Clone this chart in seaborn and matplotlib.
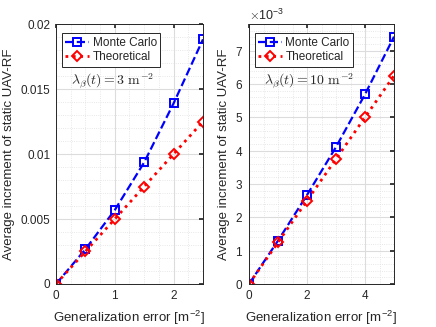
import matplotlib
matplotlib.use("Agg")
import matplotlib.pyplot as plt
import matplotlib.ticker as mticker
import seaborn as sns

# left panel: lambda = 3 m^-2
err_a = [0, 0.5, 1, 1.5, 2, 2.5]
mc_a = [0, 0.00267, 0.00569, 0.00936, 0.0139, 0.01882]
theo_a = [0, 0.0025, 0.005, 0.0075, 0.01, 0.0125]

# right panel: lambda = 10 m^-2
err_b = [0, 1, 2, 3, 4, 5]
mc_b = [0, 0.00130, 0.00267, 0.00411, 0.00569, 0.00742]
theo_b = [0, 0.00125, 0.0025, 0.00375, 0.005, 0.00625]

labels = ["Monte Carlo", "Theoretical"]

sns.set_theme(style="white")
plt.rcParams["font.family"] = ["Liberation Sans", "DejaVu Sans"]
plt.rcParams["mathtext.fontset"] = "cm"

fig = plt.figure(figsize=(4.36, 3.27), dpi=100)
ax1 = fig.add_axes([0.1284, 0.1315, 0.3372, 0.7951])
ax2 = fig.add_axes([0.5711, 0.1315, 0.3326, 0.7951])

EDGE = "#262626"


def draw(ax, x, mc, theo, lam, xmax, ymax, xstep, ystep):
    sns.lineplot(x=x, y=mc, ax=ax, color="blue", linestyle="--", linewidth=1.6,
                 marker="s", markersize=5.5, markerfacecolor="none",
                 markeredgecolor="blue", markeredgewidth=1.4, label=labels[0])
    sns.lineplot(x=x, y=theo, ax=ax, color="red", linestyle=":", linewidth=2,
                 marker="D", markersize=5.5, markerfacecolor="none",
                 markeredgecolor="red", markeredgewidth=1.4, label=labels[1])
    ax.set_xlim(0, xmax)
    ax.set_ylim(0, ymax)
    ax.xaxis.set_major_locator(mticker.MultipleLocator(xstep))
    ax.yaxis.set_major_locator(mticker.MultipleLocator(ystep))
    ax.xaxis.set_minor_locator(mticker.AutoMinorLocator(4))
    ax.yaxis.set_minor_locator(mticker.AutoMinorLocator(5))
    ax.grid(which="major", color="#dcdcdc", linewidth=0.8)
    ax.grid(which="minor", color="#e0e0e0", linewidth=0.6, linestyle=":")
    ax.set_axisbelow(True)
    for s in ax.spines.values():
        s.set_color(EDGE)
        s.set_linewidth(0.7)
    ax.tick_params(which="both", direction="in", top=True, right=True,
                   colors=EDGE, labelsize=8.5, labelcolor="#262626", pad=4)
    ax.tick_params(which="major", length=3)
    ax.tick_params(which="minor", length=0)
    ax.set_xlabel("Generalization error [m$^{\\mathregular{-2}}$]", fontsize=9.5,
                  color="#262626", labelpad=5)
    ax.set_ylabel("Average increment of static UAV-RF", fontsize=9.5,
                  color="#262626", labelpad=4)
    leg = ax.legend(loc="upper left", fontsize=8.5, fancybox=False, framealpha=1,
                    edgecolor="#262626", handlelength=2.0, borderpad=0.3,
                    labelspacing=0.2, handletextpad=0.3, borderaxespad=0,
                    bbox_to_anchor=(0.04, 0.965))
    leg.get_frame().set_linewidth(0.7)
    ax.text(0.1, 0.78, r"$\lambda_\beta(t) = %d\ \mathrm{m}^{-2}$" % lam,
            transform=ax.transAxes, fontsize=10, va="center")


draw(ax1, err_a, mc_a, theo_a, 3, 2.5, 0.02, 1, 0.005)
ax1.yaxis.set_major_formatter(mticker.FuncFormatter(lambda v, p: f"{v:g}"))

draw(ax2, err_b, mc_b, theo_b, 10, 5, 0.0078, 2, 0.001)
fmt = mticker.ScalarFormatter(useMathText=True)
fmt.set_powerlimits((-3, -3))
ax2.yaxis.set_major_formatter(fmt)
ax2.yaxis.get_offset_text().set_fontsize(9)
ax2.yaxis.get_offset_text().set_color("#262626")

fig.savefig("out.png", dpi=100)
